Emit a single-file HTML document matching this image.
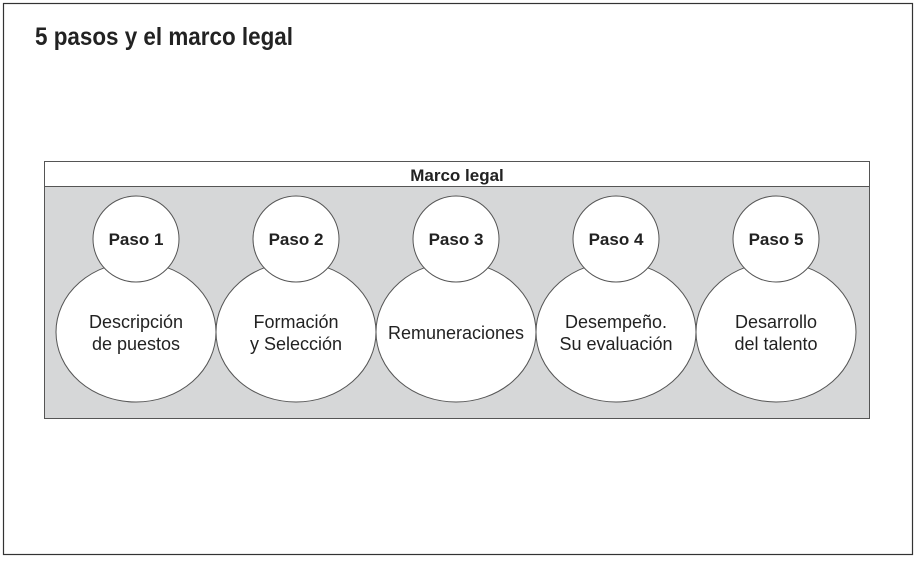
<!DOCTYPE html>
<html><head><style>
body{margin:0;background:#fff;}
svg text{font-family:"Liberation Sans Narrow","Liberation Sans",sans-serif;fill:#222;}
</style></head><body>
<svg width="917" height="560" viewBox="0 0 917 560" xmlns="http://www.w3.org/2000/svg">
<rect x="3.5" y="3.5" width="909" height="551" fill="#fff" stroke="#333" stroke-width="1.2"/>
<text x="35" y="45" font-size="25" font-weight="bold" textLength="258" lengthAdjust="spacingAndGlyphs">5 pasos y el marco legal</text>
<rect x="44.5" y="161.5" width="825" height="257" fill="#d6d7d8" stroke="#555"/>
<rect x="44.5" y="161.5" width="825" height="25" fill="#fff" stroke="#555"/>
<text x="457" y="181" font-size="17" font-weight="bold" text-anchor="middle">Marco legal</text>
<g stroke="#555" stroke-width="1" fill="#fff">
<ellipse cx="136" cy="332" rx="80" ry="70"/>
<ellipse cx="296" cy="332" rx="80" ry="70"/>
<ellipse cx="456" cy="332" rx="80" ry="70"/>
<ellipse cx="616" cy="332" rx="80" ry="70"/>
<ellipse cx="776" cy="332" rx="80" ry="70"/>
<circle cx="136" cy="239" r="43"/>
<circle cx="296" cy="239" r="43"/>
<circle cx="456" cy="239" r="43"/>
<circle cx="616" cy="239" r="43"/>
<circle cx="776" cy="239" r="43"/>
</g>
<g font-size="17" font-weight="bold" text-anchor="middle">
<text x="136" y="245">Paso 1</text>
<text x="296" y="245">Paso 2</text>
<text x="456" y="245">Paso 3</text>
<text x="616" y="245">Paso 4</text>
<text x="776" y="245">Paso 5</text>
</g>
<g font-size="18" text-anchor="middle">
<text x="136" y="328">Descripción</text><text x="136" y="350">de puestos</text>
<text x="296" y="328">Formación</text><text x="296" y="350">y Selección</text>
<text x="456" y="339">Remuneraciones</text>
<text x="616" y="328">Desempeño.</text><text x="616" y="350">Su evaluación</text>
<text x="776" y="328">Desarrollo</text><text x="776" y="350">del talento</text>
</g>
</svg>
</body></html>
